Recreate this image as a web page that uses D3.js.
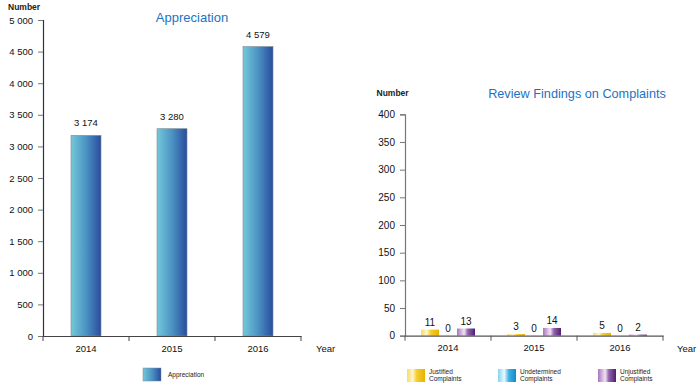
<!DOCTYPE html>
<html>
<head>
<meta charset="utf-8">
<script src="https://cdn.jsdelivr.net/npm/d3@7"></script>
<style>
html,body{margin:0;padding:0;background:#fff;}
svg{display:block;font-family:"Liberation Sans",Arial,sans-serif;}
</style>
</head>
<body>
<svg id="chart" width="700" height="383"></svg>
<script>
// ---- data ----
const years = ["2014", "2015", "2016"];
const appreciation = [3174, 3280, 4579];
const appreciationTicks = [0, 500, 1000, 1500, 2000, 2500, 3000, 3500, 4000, 4500, 5000];

const complaintSeries = ["Justified Complaints", "Undetermined Complaints", "Unjustified Complaints"];
const justified = [11, 3, 5];
const undetermined = [0, 0, 0];
const unjustified = [13, 14, 2];
const complaintTicks = [0, 50, 100, 150, 200, 250, 300, 350, 400];

// ---- setup ----
const svg = d3.select("#chart");
const fmt = v => d3.format(",")(v).replace(/,/g, " ");
const defs = svg.append("defs");
function grad(id, stops) {
  const g = defs.append("linearGradient").attr("id", id)
    .attr("x1", "0%").attr("x2", "100%").attr("y1", "0%").attr("y2", "0%");
  stops.forEach(s => g.append("stop").attr("offset", s[0]).attr("stop-color", s[1]));
}
grad("gApp", [["0%", "#74c8da"], ["50%", "#4b93c3"], ["100%", "#2a4b9e"]]);
grad("gJus", [["0%", "#f6dc68"], ["32%", "#fff6cc"], ["55%", "#f4cc2a"], ["100%", "#e6b400"]]);
grad("gUnd", [["0%", "#86d2f0"], ["35%", "#eaf8ff"], ["60%", "#3fb0e2"], ["100%", "#0e8ccc"]]);
grad("gUnj", [["0%", "#a676bc"], ["40%", "#f2e4f2"], ["60%", "#9464ac"], ["100%", "#4e1f70"]]);
const seriesFill = ["url(#gJus)", "url(#gUnd)", "url(#gUnj)"];

const titleColor = "#1a73c4";

// ================= LEFT CHART =================
{
  const x0 = 43, x1 = 301, yTop = 20, yBot = 336;
  const x = d3.scaleBand().domain(years).range([x0, x1]).padding(0);
  const y = d3.scaleLinear().domain([0, 5000]).range([yBot, yTop]);
  const bw = 30;
  const g = svg.append("g");

  // y axis
  const ya = g.append("g").attr("transform", `translate(${x0},0)`)
    .call(d3.axisLeft(y).tickValues(appreciationTicks).tickFormat(fmt).tickSize(5).tickPadding(5));
  ya.select(".domain").attr("stroke", "#333").attr("stroke-width", 1.2);
  ya.selectAll(".tick line").attr("stroke", "#777");
  ya.selectAll("text").attr("font-size", "9.5px").attr("fill", "#111")
    .attr("font-family", "'Liberation Sans',Arial,sans-serif");

  // bars
  g.selectAll("rect.bar").data(appreciation).join("rect")
    .attr("class", "bar")
    .attr("x", (d, i) => x(years[i]) + (x.bandwidth() - bw) / 2)
    .attr("width", bw)
    .attr("y", d => y(d))
    .attr("height", d => y(0) - y(d))
    .attr("fill", "url(#gApp)")
    .attr("stroke", "#7a8a96").attr("stroke-width", 0.6);

  // value labels
  g.selectAll("text.val").data(appreciation).join("text")
    .attr("class", "val")
    .attr("x", (d, i) => x(years[i]) + x.bandwidth() / 2)
    .attr("y", d => y(d) - 9)
    .attr("text-anchor", "middle").attr("font-size", "9.5px").attr("fill", "#111")
    .text(fmt);

  // x axis
  const xa = g.append("g").attr("transform", `translate(0,${yBot})`)
    .call(d3.axisBottom(x).tickSize(0).tickPadding(9));
  xa.select(".domain").attr("stroke", "#444").attr("stroke-width", 1.2);
  xa.selectAll("text").attr("font-size", "9.5px").attr("fill", "#111")
    .attr("font-family", "'Liberation Sans',Arial,sans-serif");
  const bounds = [x0].concat(years.map(d => x(d) + x.bandwidth()));
  g.selectAll("line.xt").data(bounds).join("line").attr("class", "xt")
    .attr("x1", d => d).attr("x2", d => d).attr("y1", yBot).attr("y2", yBot + 5)
    .attr("stroke", "#444").attr("stroke-width", 1);

  g.append("text").attr("x", 316).attr("y", 352).attr("font-size", "9.5px").attr("fill", "#111").text("Year");
  g.append("text").attr("x", 8).attr("y", 9.5).attr("font-size", "8.5px").attr("font-weight", "bold").attr("fill", "#222").text("Number");
  g.append("text").attr("x", 192).attr("y", 22).attr("text-anchor", "middle").attr("font-size", "13px").attr("fill", titleColor).text("Appreciation");

  // legend
  g.append("rect").attr("x", 143).attr("y", 368).attr("width", 18).attr("height", 13)
    .attr("fill", "url(#gApp)").attr("stroke", "#7a8a96").attr("stroke-width", 0.5);
  g.append("text").attr("x", 168).attr("y", 377).attr("font-size", "6.5px").attr("fill", "#222").text("Appreciation");
}

// ================= RIGHT CHART =================
{
  const x0 = 405, x1 = 663, yTop = 114.3, yBot = 335.7;
  const x = d3.scaleBand().domain(years).range([x0, x1]).padding(0);
  const groupW = 54;
  const xs = d3.scaleBand().domain(complaintSeries).range([0, groupW]).padding(0);
  const y = d3.scaleLinear().domain([0, 400]).range([yBot, yTop]);
  const values = [justified, undetermined, unjustified];
  const g = svg.append("g");

  const ya = g.append("g").attr("transform", `translate(${x0},0)`)
    .call(d3.axisLeft(y).tickValues(complaintTicks).tickSize(5).tickPadding(5));
  ya.select(".domain").attr("stroke", "#777").attr("stroke-width", 1.2);
  ya.selectAll(".tick line").attr("stroke", "#777");
  ya.selectAll("text").attr("font-size", "10px").attr("fill", "#111")
    .attr("font-family", "'Liberation Sans',Arial,sans-serif");

  const flat = [];
  years.forEach((yr, i) => complaintSeries.forEach((s, j) => flat.push({ yr, s, j, v: values[j][i] })));
  const off = (x.bandwidth() - groupW) / 2;

  g.selectAll("rect.bar").data(flat).join("rect")
    .attr("class", "bar")
    .attr("x", d => x(d.yr) + off + xs(d.s))
    .attr("width", xs.bandwidth())
    .attr("y", d => y(d.v))
    .attr("height", d => y(0) - y(d.v))
    .attr("fill", d => seriesFill[d.j]);

  g.selectAll("text.val").data(flat).join("text")
    .attr("class", "val")
    .attr("x", d => x(d.yr) + off + xs(d.s) + xs.bandwidth() / 2)
    .attr("y", d => y(d.v) - 4)
    .attr("text-anchor", "middle").attr("font-size", "10px").attr("fill", "#111")
    .text(d => d.v);

  const xa = g.append("g").attr("transform", `translate(0,${yBot})`)
    .call(d3.axisBottom(x).tickSize(0).tickPadding(9));
  xa.select(".domain").attr("stroke", "#555").attr("stroke-width", 1.2);
  xa.selectAll("text").attr("font-size", "9.5px").attr("fill", "#111")
    .attr("font-family", "'Liberation Sans',Arial,sans-serif");
  const bounds = [x0].concat(years.map(d => x(d) + x.bandwidth()));
  g.selectAll("line.xt").data(bounds).join("line").attr("class", "xt")
    .attr("x1", d => d).attr("x2", d => d).attr("y1", yBot).attr("y2", yBot + 5)
    .attr("stroke", "#555").attr("stroke-width", 1);

  g.append("text").attr("x", 677).attr("y", 351.5).attr("font-size", "9.5px").attr("fill", "#111").text("Year");
  g.append("text").attr("x", 376.5).attr("y", 96).attr("font-size", "8.5px").attr("font-weight", "bold").attr("fill", "#222").text("Number");
  g.append("text").attr("x", 577).attr("y", 97.5).attr("text-anchor", "middle").attr("font-size", "12.7px").attr("fill", titleColor).text("Review Findings on Complaints");

  // legend
  const legX = [407, 498, 598];
  const leg = g.selectAll("g.leg").data(complaintSeries).join("g").attr("class", "leg")
    .attr("transform", (d, i) => `translate(${legX[i]},369)`);
  leg.append("rect").attr("width", 18).attr("height", 13).attr("fill", (d, i) => seriesFill[i]);
  leg.append("text").attr("x", 22).attr("y", 5).attr("font-size", "6.5px").attr("fill", "#222")
    .text(d => d.split(" ")[0]);
  leg.append("text").attr("x", 22).attr("y", 12).attr("font-size", "6.5px").attr("fill", "#222")
    .text(d => d.split(" ")[1]);
}
</script>
</body>
</html>
